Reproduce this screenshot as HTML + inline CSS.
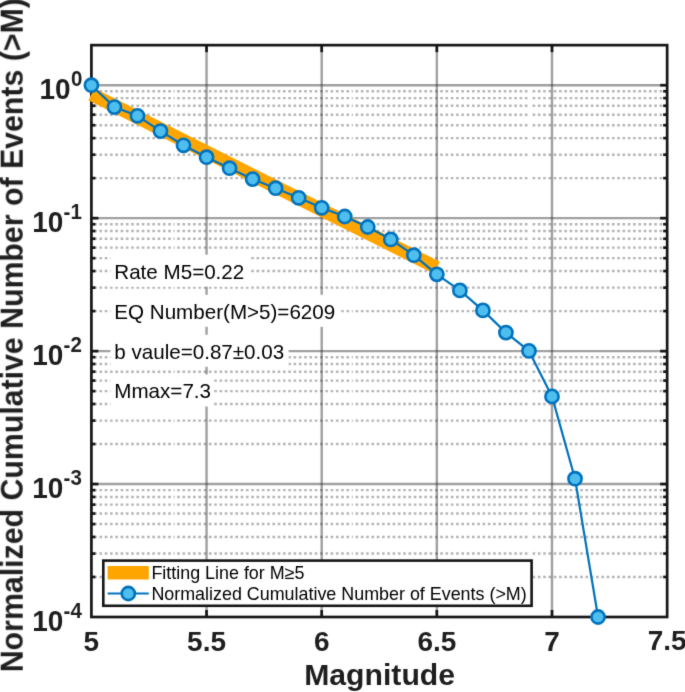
<!DOCTYPE html>
<html><head><meta charset="utf-8"><style>
html,body{margin:0;padding:0;background:#fff;width:685px;height:692px;overflow:hidden}
svg{display:block;font-family:"Liberation Sans",sans-serif}
</style></head><body>
<svg width="685" height="692" viewBox="0 0 685 692">
<defs><filter id="soft" x="0" y="0" width="685" height="692" filterUnits="userSpaceOnUse" color-interpolation-filters="sRGB"><feConvolveMatrix order="3" kernelMatrix="0.0114 0.0841 0.0114 0.0841 0.6178 0.0841 0.0114 0.0841 0.0114" divisor="1" edgeMode="duplicate"/></filter></defs>
<g filter="url(#soft)">
<rect x="0" y="0" width="685" height="692" fill="#fff"/>
<g stroke="#262626" stroke-opacity="0.34" stroke-width="2.4" stroke-dasharray="2.6 2.69"><line x1="94.17" y1="576.98" x2="174.60" y2="576.98"/><line x1="177.20" y1="576.98" x2="352.80" y2="576.98"/><line x1="355.60" y1="576.98" x2="530.00" y2="576.98"/><line x1="532.60" y1="576.98" x2="666.65" y2="576.98"/><line x1="94.17" y1="553.57" x2="174.60" y2="553.57"/><line x1="177.20" y1="553.57" x2="352.80" y2="553.57"/><line x1="355.60" y1="553.57" x2="530.00" y2="553.57"/><line x1="532.60" y1="553.57" x2="666.65" y2="553.57"/><line x1="94.17" y1="536.96" x2="174.60" y2="536.96"/><line x1="177.20" y1="536.96" x2="352.80" y2="536.96"/><line x1="355.60" y1="536.96" x2="530.00" y2="536.96"/><line x1="532.60" y1="536.96" x2="666.65" y2="536.96"/><line x1="94.17" y1="524.07" x2="174.60" y2="524.07"/><line x1="177.20" y1="524.07" x2="352.80" y2="524.07"/><line x1="355.60" y1="524.07" x2="530.00" y2="524.07"/><line x1="532.60" y1="524.07" x2="666.65" y2="524.07"/><line x1="94.17" y1="513.54" x2="174.60" y2="513.54"/><line x1="177.20" y1="513.54" x2="352.80" y2="513.54"/><line x1="355.60" y1="513.54" x2="530.00" y2="513.54"/><line x1="532.60" y1="513.54" x2="666.65" y2="513.54"/><line x1="94.17" y1="504.64" x2="174.60" y2="504.64"/><line x1="177.20" y1="504.64" x2="352.80" y2="504.64"/><line x1="355.60" y1="504.64" x2="530.00" y2="504.64"/><line x1="532.60" y1="504.64" x2="666.65" y2="504.64"/><line x1="94.17" y1="496.93" x2="174.60" y2="496.93"/><line x1="177.20" y1="496.93" x2="352.80" y2="496.93"/><line x1="355.60" y1="496.93" x2="530.00" y2="496.93"/><line x1="532.60" y1="496.93" x2="666.65" y2="496.93"/><line x1="94.17" y1="490.13" x2="174.60" y2="490.13"/><line x1="177.20" y1="490.13" x2="352.80" y2="490.13"/><line x1="355.60" y1="490.13" x2="530.00" y2="490.13"/><line x1="532.60" y1="490.13" x2="666.65" y2="490.13"/><line x1="94.17" y1="444.03" x2="174.60" y2="444.03"/><line x1="177.20" y1="444.03" x2="352.80" y2="444.03"/><line x1="355.60" y1="444.03" x2="530.00" y2="444.03"/><line x1="532.60" y1="444.03" x2="666.65" y2="444.03"/><line x1="94.17" y1="420.62" x2="174.60" y2="420.62"/><line x1="177.20" y1="420.62" x2="352.80" y2="420.62"/><line x1="355.60" y1="420.62" x2="530.00" y2="420.62"/><line x1="532.60" y1="420.62" x2="666.65" y2="420.62"/><line x1="94.17" y1="404.01" x2="174.60" y2="404.01"/><line x1="177.20" y1="404.01" x2="352.80" y2="404.01"/><line x1="355.60" y1="404.01" x2="530.00" y2="404.01"/><line x1="532.60" y1="404.01" x2="666.65" y2="404.01"/><line x1="94.17" y1="391.12" x2="174.60" y2="391.12"/><line x1="177.20" y1="391.12" x2="352.80" y2="391.12"/><line x1="355.60" y1="391.12" x2="530.00" y2="391.12"/><line x1="532.60" y1="391.12" x2="666.65" y2="391.12"/><line x1="94.17" y1="380.59" x2="174.60" y2="380.59"/><line x1="177.20" y1="380.59" x2="352.80" y2="380.59"/><line x1="355.60" y1="380.59" x2="530.00" y2="380.59"/><line x1="532.60" y1="380.59" x2="666.65" y2="380.59"/><line x1="94.17" y1="371.69" x2="174.60" y2="371.69"/><line x1="177.20" y1="371.69" x2="352.80" y2="371.69"/><line x1="355.60" y1="371.69" x2="530.00" y2="371.69"/><line x1="532.60" y1="371.69" x2="666.65" y2="371.69"/><line x1="94.17" y1="363.98" x2="174.60" y2="363.98"/><line x1="177.20" y1="363.98" x2="352.80" y2="363.98"/><line x1="355.60" y1="363.98" x2="530.00" y2="363.98"/><line x1="532.60" y1="363.98" x2="666.65" y2="363.98"/><line x1="94.17" y1="357.18" x2="174.60" y2="357.18"/><line x1="177.20" y1="357.18" x2="352.80" y2="357.18"/><line x1="355.60" y1="357.18" x2="530.00" y2="357.18"/><line x1="532.60" y1="357.18" x2="666.65" y2="357.18"/><line x1="94.17" y1="311.08" x2="174.60" y2="311.08"/><line x1="177.20" y1="311.08" x2="352.80" y2="311.08"/><line x1="355.60" y1="311.08" x2="530.00" y2="311.08"/><line x1="532.60" y1="311.08" x2="666.65" y2="311.08"/><line x1="94.17" y1="287.67" x2="174.60" y2="287.67"/><line x1="177.20" y1="287.67" x2="352.80" y2="287.67"/><line x1="355.60" y1="287.67" x2="530.00" y2="287.67"/><line x1="532.60" y1="287.67" x2="666.65" y2="287.67"/><line x1="94.17" y1="271.06" x2="174.60" y2="271.06"/><line x1="177.20" y1="271.06" x2="352.80" y2="271.06"/><line x1="355.60" y1="271.06" x2="530.00" y2="271.06"/><line x1="532.60" y1="271.06" x2="666.65" y2="271.06"/><line x1="94.17" y1="258.17" x2="174.60" y2="258.17"/><line x1="177.20" y1="258.17" x2="352.80" y2="258.17"/><line x1="355.60" y1="258.17" x2="530.00" y2="258.17"/><line x1="532.60" y1="258.17" x2="666.65" y2="258.17"/><line x1="94.17" y1="247.64" x2="174.60" y2="247.64"/><line x1="177.20" y1="247.64" x2="352.80" y2="247.64"/><line x1="355.60" y1="247.64" x2="530.00" y2="247.64"/><line x1="532.60" y1="247.64" x2="666.65" y2="247.64"/><line x1="94.17" y1="238.74" x2="174.60" y2="238.74"/><line x1="177.20" y1="238.74" x2="352.80" y2="238.74"/><line x1="355.60" y1="238.74" x2="530.00" y2="238.74"/><line x1="532.60" y1="238.74" x2="666.65" y2="238.74"/><line x1="94.17" y1="231.03" x2="174.60" y2="231.03"/><line x1="177.20" y1="231.03" x2="352.80" y2="231.03"/><line x1="355.60" y1="231.03" x2="530.00" y2="231.03"/><line x1="532.60" y1="231.03" x2="666.65" y2="231.03"/><line x1="94.17" y1="224.23" x2="174.60" y2="224.23"/><line x1="177.20" y1="224.23" x2="352.80" y2="224.23"/><line x1="355.60" y1="224.23" x2="530.00" y2="224.23"/><line x1="532.60" y1="224.23" x2="666.65" y2="224.23"/><line x1="94.17" y1="178.13" x2="174.60" y2="178.13"/><line x1="177.20" y1="178.13" x2="352.80" y2="178.13"/><line x1="355.60" y1="178.13" x2="530.00" y2="178.13"/><line x1="532.60" y1="178.13" x2="666.65" y2="178.13"/><line x1="94.17" y1="154.72" x2="174.60" y2="154.72"/><line x1="177.20" y1="154.72" x2="352.80" y2="154.72"/><line x1="355.60" y1="154.72" x2="530.00" y2="154.72"/><line x1="532.60" y1="154.72" x2="666.65" y2="154.72"/><line x1="94.17" y1="138.11" x2="174.60" y2="138.11"/><line x1="177.20" y1="138.11" x2="352.80" y2="138.11"/><line x1="355.60" y1="138.11" x2="530.00" y2="138.11"/><line x1="532.60" y1="138.11" x2="666.65" y2="138.11"/><line x1="94.17" y1="125.22" x2="174.60" y2="125.22"/><line x1="177.20" y1="125.22" x2="352.80" y2="125.22"/><line x1="355.60" y1="125.22" x2="530.00" y2="125.22"/><line x1="532.60" y1="125.22" x2="666.65" y2="125.22"/><line x1="94.17" y1="114.69" x2="174.60" y2="114.69"/><line x1="177.20" y1="114.69" x2="352.80" y2="114.69"/><line x1="355.60" y1="114.69" x2="530.00" y2="114.69"/><line x1="532.60" y1="114.69" x2="666.65" y2="114.69"/><line x1="94.17" y1="105.79" x2="174.60" y2="105.79"/><line x1="177.20" y1="105.79" x2="352.80" y2="105.79"/><line x1="355.60" y1="105.79" x2="530.00" y2="105.79"/><line x1="532.60" y1="105.79" x2="666.65" y2="105.79"/><line x1="94.17" y1="98.08" x2="174.60" y2="98.08"/><line x1="177.20" y1="98.08" x2="352.80" y2="98.08"/><line x1="355.60" y1="98.08" x2="530.00" y2="98.08"/><line x1="532.60" y1="98.08" x2="666.65" y2="98.08"/><line x1="94.17" y1="91.28" x2="174.60" y2="91.28"/><line x1="177.20" y1="91.28" x2="352.80" y2="91.28"/><line x1="355.60" y1="91.28" x2="530.00" y2="91.28"/><line x1="532.60" y1="91.28" x2="666.65" y2="91.28"/></g>
<g stroke="#262626" stroke-opacity="0.44" stroke-width="2.4"><line x1="91.4" y1="484.05" x2="667.15" y2="484.05"/><line x1="91.4" y1="351.10" x2="667.15" y2="351.10"/><line x1="91.4" y1="218.15" x2="667.15" y2="218.15"/><line x1="91.4" y1="85.20" x2="667.15" y2="85.20"/><line x1="206.55" y1="45.15" x2="206.55" y2="617.0"/><line x1="321.70" y1="45.15" x2="321.70" y2="617.0"/><line x1="436.85" y1="45.15" x2="436.85" y2="617.0"/><line x1="552.00" y1="45.15" x2="552.00" y2="617.0"/></g>
<rect x="110.5" y="254.7" width="139.0" height="32" fill="#fff"/>
<text x="114.3" y="278.5" font-size="20.6" fill="#000">Rate M5=0.22</text>
<rect x="110.5" y="294.8" width="229.1" height="32" fill="#fff"/>
<text x="114.3" y="318.6" font-size="20.6" fill="#000">EQ Number(M&gt;5)=6209</text>
<rect x="110.5" y="334.8" width="178.1" height="32" fill="#fff"/>
<text x="114.3" y="358.6" font-size="20.6" fill="#000">b vaule=0.87&#177;0.03</text>
<rect x="110.5" y="374.5" width="103.4" height="32" fill="#fff"/>
<text x="114.3" y="398.3" font-size="20.6" fill="#000">Mmax=7.3</text>
<g stroke="#161616" stroke-width="2.7" fill="none"><rect x="91.4" y="45.15" width="575.75" height="571.85" fill="none"/><line x1="206.55" y1="617.0" x2="206.55" y2="610.0"/><line x1="206.55" y1="45.15" x2="206.55" y2="52.15"/><line x1="321.70" y1="617.0" x2="321.70" y2="610.0"/><line x1="321.70" y1="45.15" x2="321.70" y2="52.15"/><line x1="436.85" y1="617.0" x2="436.85" y2="610.0"/><line x1="436.85" y1="45.15" x2="436.85" y2="52.15"/><line x1="552.00" y1="617.0" x2="552.00" y2="610.0"/><line x1="552.00" y1="45.15" x2="552.00" y2="52.15"/><line x1="91.4" y1="484.05" x2="98.4" y2="484.05"/><line x1="667.15" y1="484.05" x2="660.15" y2="484.05"/><line x1="91.4" y1="351.10" x2="98.4" y2="351.10"/><line x1="667.15" y1="351.10" x2="660.15" y2="351.10"/><line x1="91.4" y1="218.15" x2="98.4" y2="218.15"/><line x1="667.15" y1="218.15" x2="660.15" y2="218.15"/><line x1="91.4" y1="85.20" x2="98.4" y2="85.20"/><line x1="667.15" y1="85.20" x2="660.15" y2="85.20"/><line x1="91.4" y1="576.98" x2="95.4" y2="576.98"/><line x1="667.15" y1="576.98" x2="663.15" y2="576.98"/><line x1="91.4" y1="553.57" x2="95.4" y2="553.57"/><line x1="667.15" y1="553.57" x2="663.15" y2="553.57"/><line x1="91.4" y1="536.96" x2="95.4" y2="536.96"/><line x1="667.15" y1="536.96" x2="663.15" y2="536.96"/><line x1="91.4" y1="524.07" x2="95.4" y2="524.07"/><line x1="667.15" y1="524.07" x2="663.15" y2="524.07"/><line x1="91.4" y1="513.54" x2="95.4" y2="513.54"/><line x1="667.15" y1="513.54" x2="663.15" y2="513.54"/><line x1="91.4" y1="504.64" x2="95.4" y2="504.64"/><line x1="667.15" y1="504.64" x2="663.15" y2="504.64"/><line x1="91.4" y1="496.93" x2="95.4" y2="496.93"/><line x1="667.15" y1="496.93" x2="663.15" y2="496.93"/><line x1="91.4" y1="490.13" x2="95.4" y2="490.13"/><line x1="667.15" y1="490.13" x2="663.15" y2="490.13"/><line x1="91.4" y1="444.03" x2="95.4" y2="444.03"/><line x1="667.15" y1="444.03" x2="663.15" y2="444.03"/><line x1="91.4" y1="420.62" x2="95.4" y2="420.62"/><line x1="667.15" y1="420.62" x2="663.15" y2="420.62"/><line x1="91.4" y1="404.01" x2="95.4" y2="404.01"/><line x1="667.15" y1="404.01" x2="663.15" y2="404.01"/><line x1="91.4" y1="391.12" x2="95.4" y2="391.12"/><line x1="667.15" y1="391.12" x2="663.15" y2="391.12"/><line x1="91.4" y1="380.59" x2="95.4" y2="380.59"/><line x1="667.15" y1="380.59" x2="663.15" y2="380.59"/><line x1="91.4" y1="371.69" x2="95.4" y2="371.69"/><line x1="667.15" y1="371.69" x2="663.15" y2="371.69"/><line x1="91.4" y1="363.98" x2="95.4" y2="363.98"/><line x1="667.15" y1="363.98" x2="663.15" y2="363.98"/><line x1="91.4" y1="357.18" x2="95.4" y2="357.18"/><line x1="667.15" y1="357.18" x2="663.15" y2="357.18"/><line x1="91.4" y1="311.08" x2="95.4" y2="311.08"/><line x1="667.15" y1="311.08" x2="663.15" y2="311.08"/><line x1="91.4" y1="287.67" x2="95.4" y2="287.67"/><line x1="667.15" y1="287.67" x2="663.15" y2="287.67"/><line x1="91.4" y1="271.06" x2="95.4" y2="271.06"/><line x1="667.15" y1="271.06" x2="663.15" y2="271.06"/><line x1="91.4" y1="258.17" x2="95.4" y2="258.17"/><line x1="667.15" y1="258.17" x2="663.15" y2="258.17"/><line x1="91.4" y1="247.64" x2="95.4" y2="247.64"/><line x1="667.15" y1="247.64" x2="663.15" y2="247.64"/><line x1="91.4" y1="238.74" x2="95.4" y2="238.74"/><line x1="667.15" y1="238.74" x2="663.15" y2="238.74"/><line x1="91.4" y1="231.03" x2="95.4" y2="231.03"/><line x1="667.15" y1="231.03" x2="663.15" y2="231.03"/><line x1="91.4" y1="224.23" x2="95.4" y2="224.23"/><line x1="667.15" y1="224.23" x2="663.15" y2="224.23"/><line x1="91.4" y1="178.13" x2="95.4" y2="178.13"/><line x1="667.15" y1="178.13" x2="663.15" y2="178.13"/><line x1="91.4" y1="154.72" x2="95.4" y2="154.72"/><line x1="667.15" y1="154.72" x2="663.15" y2="154.72"/><line x1="91.4" y1="138.11" x2="95.4" y2="138.11"/><line x1="667.15" y1="138.11" x2="663.15" y2="138.11"/><line x1="91.4" y1="125.22" x2="95.4" y2="125.22"/><line x1="667.15" y1="125.22" x2="663.15" y2="125.22"/><line x1="91.4" y1="114.69" x2="95.4" y2="114.69"/><line x1="667.15" y1="114.69" x2="663.15" y2="114.69"/><line x1="91.4" y1="105.79" x2="95.4" y2="105.79"/><line x1="667.15" y1="105.79" x2="663.15" y2="105.79"/><line x1="91.4" y1="98.08" x2="95.4" y2="98.08"/><line x1="667.15" y1="98.08" x2="663.15" y2="98.08"/><line x1="91.4" y1="91.28" x2="95.4" y2="91.28"/><line x1="667.15" y1="91.28" x2="663.15" y2="91.28"/></g>
<line x1="91.4" y1="94.3" x2="436.85" y2="267.7" stroke="#FFA500" stroke-width="13.4"/>
<polyline points="91.40,85.20 114.43,107.10 137.46,115.80 160.49,131.10 183.52,145.30 206.55,157.20 229.58,168.20 252.61,179.10 275.64,188.20 298.67,197.80 321.70,207.80 344.73,216.50 367.76,227.00 390.79,239.40 413.82,255.20 436.85,274.30 459.88,290.40 482.91,310.40 505.94,332.60 528.97,350.90 552.00,396.40 575.03,478.70 598.06,617.00" fill="none" stroke="#0072BD" stroke-width="2.2" stroke-linejoin="round"/>
<circle cx="91.40" cy="85.20" r="6.6" fill="#4DBEEE" stroke="#0072BD" stroke-width="2.6"/>
<circle cx="114.43" cy="107.10" r="6.6" fill="#4DBEEE" stroke="#0072BD" stroke-width="2.6"/>
<circle cx="137.46" cy="115.80" r="6.6" fill="#4DBEEE" stroke="#0072BD" stroke-width="2.6"/>
<circle cx="160.49" cy="131.10" r="6.6" fill="#4DBEEE" stroke="#0072BD" stroke-width="2.6"/>
<circle cx="183.52" cy="145.30" r="6.6" fill="#4DBEEE" stroke="#0072BD" stroke-width="2.6"/>
<circle cx="206.55" cy="157.20" r="6.6" fill="#4DBEEE" stroke="#0072BD" stroke-width="2.6"/>
<circle cx="229.58" cy="168.20" r="6.6" fill="#4DBEEE" stroke="#0072BD" stroke-width="2.6"/>
<circle cx="252.61" cy="179.10" r="6.6" fill="#4DBEEE" stroke="#0072BD" stroke-width="2.6"/>
<circle cx="275.64" cy="188.20" r="6.6" fill="#4DBEEE" stroke="#0072BD" stroke-width="2.6"/>
<circle cx="298.67" cy="197.80" r="6.6" fill="#4DBEEE" stroke="#0072BD" stroke-width="2.6"/>
<circle cx="321.70" cy="207.80" r="6.6" fill="#4DBEEE" stroke="#0072BD" stroke-width="2.6"/>
<circle cx="344.73" cy="216.50" r="6.6" fill="#4DBEEE" stroke="#0072BD" stroke-width="2.6"/>
<circle cx="367.76" cy="227.00" r="6.6" fill="#4DBEEE" stroke="#0072BD" stroke-width="2.6"/>
<circle cx="390.79" cy="239.40" r="6.6" fill="#4DBEEE" stroke="#0072BD" stroke-width="2.6"/>
<circle cx="413.82" cy="255.20" r="6.6" fill="#4DBEEE" stroke="#0072BD" stroke-width="2.6"/>
<circle cx="436.85" cy="274.30" r="6.6" fill="#4DBEEE" stroke="#0072BD" stroke-width="2.6"/>
<circle cx="459.88" cy="290.40" r="6.6" fill="#4DBEEE" stroke="#0072BD" stroke-width="2.6"/>
<circle cx="482.91" cy="310.40" r="6.6" fill="#4DBEEE" stroke="#0072BD" stroke-width="2.6"/>
<circle cx="505.94" cy="332.60" r="6.6" fill="#4DBEEE" stroke="#0072BD" stroke-width="2.6"/>
<circle cx="528.97" cy="350.90" r="6.6" fill="#4DBEEE" stroke="#0072BD" stroke-width="2.6"/>
<circle cx="552.00" cy="396.40" r="6.6" fill="#4DBEEE" stroke="#0072BD" stroke-width="2.6"/>
<circle cx="575.03" cy="478.70" r="6.6" fill="#4DBEEE" stroke="#0072BD" stroke-width="2.6"/>
<circle cx="598.06" cy="617.00" r="6.6" fill="#4DBEEE" stroke="#0072BD" stroke-width="2.6"/>
<rect x="103.3" y="560.6" width="428.3" height="45.2" fill="#fff" stroke="#161616" stroke-width="2.6"/>
<rect x="107.6" y="566" width="41.2" height="13.5" fill="#FFA500"/>
<line x1="107.6" y1="593.5" x2="148.8" y2="593.5" stroke="#0072BD" stroke-width="2.2"/>
<circle cx="128.3" cy="593.5" r="6.6" fill="#4DBEEE" stroke="#0072BD" stroke-width="2.6"/>
<text x="151.4" y="579.2" font-size="17.9" fill="#000">Fitting Line for M&#8805;5</text>
<text x="151.4" y="600.1" font-size="17.9" fill="#000">Normalized Cumulative Number of Events (&gt;M)</text>
<text transform="translate(91.40,650.5) scale(1,1.02)" font-size="28.0" font-weight="bold" text-anchor="middle" fill="#1e1e1e">5</text>
<text transform="translate(206.55,650.5) scale(1,1.02)" font-size="28.0" font-weight="bold" text-anchor="middle" fill="#1e1e1e">5.5</text>
<text transform="translate(321.70,650.5) scale(1,1.02)" font-size="28.0" font-weight="bold" text-anchor="middle" fill="#1e1e1e">6</text>
<text transform="translate(436.85,650.5) scale(1,1.02)" font-size="28.0" font-weight="bold" text-anchor="middle" fill="#1e1e1e">6.5</text>
<text transform="translate(552.00,650.5) scale(1,1.02)" font-size="28.0" font-weight="bold" text-anchor="middle" fill="#1e1e1e">7</text>
<text transform="translate(667.15,650.5) scale(1,1.02)" font-size="28.0" font-weight="bold" text-anchor="middle" fill="#1e1e1e">7.5</text>
<text transform="translate(63.4,631.20) scale(1,1.03)" font-size="28.0" font-weight="bold" text-anchor="end" fill="#1e1e1e">10</text>
<text transform="translate(63.6,617.60) scale(1,1.08)" font-size="20.5" font-weight="bold" fill="#1e1e1e">-4</text>
<text transform="translate(63.4,498.25) scale(1,1.03)" font-size="28.0" font-weight="bold" text-anchor="end" fill="#1e1e1e">10</text>
<text transform="translate(63.6,484.65) scale(1,1.08)" font-size="20.5" font-weight="bold" fill="#1e1e1e">-3</text>
<text transform="translate(63.4,365.30) scale(1,1.03)" font-size="28.0" font-weight="bold" text-anchor="end" fill="#1e1e1e">10</text>
<text transform="translate(63.6,351.70) scale(1,1.08)" font-size="20.5" font-weight="bold" fill="#1e1e1e">-2</text>
<text transform="translate(63.4,232.35) scale(1,1.03)" font-size="28.0" font-weight="bold" text-anchor="end" fill="#1e1e1e">10</text>
<text transform="translate(63.6,218.75) scale(1,1.08)" font-size="20.5" font-weight="bold" fill="#1e1e1e">-1</text>
<text transform="translate(70.6,99.40) scale(1,1.03)" font-size="28.0" font-weight="bold" text-anchor="end" fill="#1e1e1e">10</text>
<text transform="translate(71.0,85.70) scale(1,1.08)" font-size="20.5" font-weight="bold" fill="#1e1e1e">0</text>
<text transform="translate(379.6,684.8)" x="0" y="0" font-size="30.2" font-weight="bold" text-anchor="middle" fill="#1e1e1e">Magnitude</text>
<text transform="translate(23.0,672.2) rotate(-90) scale(1,1.01)" x="0" y="0" font-size="30.3" font-weight="bold" fill="#1e1e1e">Normalized Cumulative Number of Events (&gt;M)</text>
</g>
</svg>
</body></html>
